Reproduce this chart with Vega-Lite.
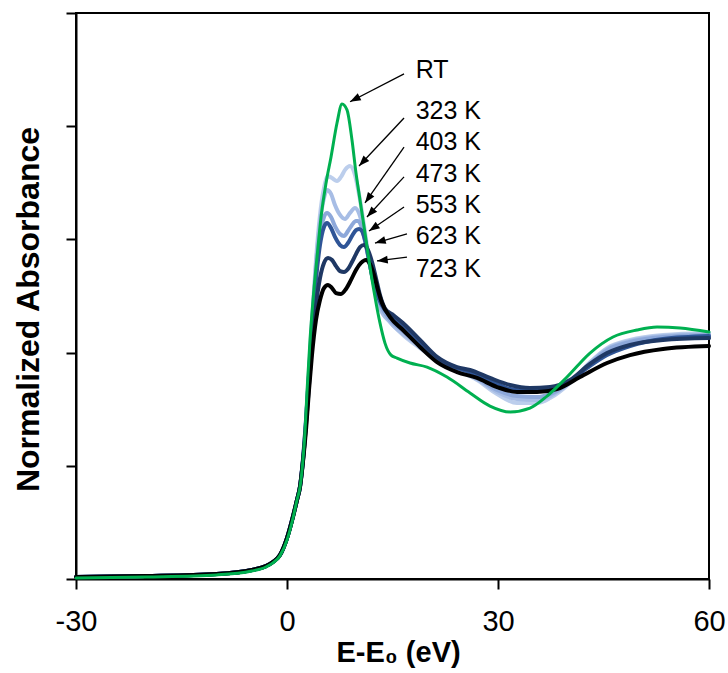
{
  "$schema": "https://vega.github.io/schema/vega-lite/v6.json",
  "width": 633,
  "height": 566,
  "autosize": {"type": "none"},
  "padding": {"left": 76, "top": 13, "right": 19, "bottom": 94},
  "background": "white",
  "config": {
    "font": "Liberation Sans",
    "view": {"stroke": "black", "strokeWidth": 2},
    "axis": {"domainColor": "black", "domainWidth": 2, "tickColor": "black", "tickWidth": 2, "tickSize": 10, "grid": false, "labelColor": "black", "titleColor": "black", "labelFont": "Liberation Sans", "titleFont": "Liberation Sans"}
  },
  "datasets": {
    "curves": [
      {"s":"323 K","x":-30,"y":0.009},{"s":"323 K","x":-20,"y":0.013},{"s":"323 K","x":-10,"y":0.022},{"s":"323 K","x":-5,"y":0.04},{"s":"323 K","x":-3,"y":0.057},{"s":"323 K","x":-2,"y":0.075},{"s":"323 K","x":-1,"y":0.106},{"s":"323 K","x":0,"y":0.181},{"s":"323 K","x":0.85,"y":0.276},{"s":"323 K","x":1.42,"y":0.349},{"s":"323 K","x":1.85,"y":0.408},
      {"s":"323 K","x":2.28,"y":0.526},{"s":"323 K","x":2.7,"y":0.702},{"s":"323 K","x":3.13,"y":0.923},{"s":"323 K","x":3.55,"y":1.144},{"s":"323 K","x":4.12,"y":1.409},{"s":"323 K","x":4.69,"y":1.608},{"s":"323 K","x":5.26,"y":1.727},{"s":"323 K","x":5.83,"y":1.78},{"s":"323 K","x":6.4,"y":1.771},{"s":"323 K","x":7.11,"y":1.758},{"s":"323 K","x":7.68,"y":1.776},{"s":"323 K","x":8.25,"y":1.807},{"s":"323 K","x":8.96,"y":1.824},{"s":"323 K","x":9.67,"y":1.784},{"s":"323 K","x":10.38,"y":1.674},{"s":"323 K","x":11.09,"y":1.533},{"s":"323 K","x":11.8,"y":1.387},{"s":"323 K","x":12.51,"y":1.276},{"s":"323 K","x":13.22,"y":1.197},{"s":"323 K","x":14.65,"y":1.135},{"s":"323 K","x":16.49,"y":1.078},{"s":"323 K","x":18.91,"y":1.02},{"s":"323 K","x":21.33,"y":0.967},{"s":"323 K","x":24.17,"y":0.923},{"s":"323 K","x":27.02,"y":0.879},{"s":"323 K","x":29.86,"y":0.817},{"s":"323 K","x":32.7,"y":0.777},{"s":"323 K","x":35.55,"y":0.777},{"s":"323 K","x":37.4,"y":0.799},{"s":"323 K","x":40.24,"y":0.866},{"s":"323 K","x":43.08,"y":0.958},{"s":"323 K","x":45.5,"y":1.02},{"s":"323 K","x":48.77,"y":1.056},{"s":"323 K","x":53.46,"y":1.078},{"s":"323 K","x":60,"y":1.087},

      {"s":"403 K","x":-30,"y":0.009},{"s":"403 K","x":-20,"y":0.013},{"s":"403 K","x":-10,"y":0.022},{"s":"403 K","x":-5,"y":0.04},{"s":"403 K","x":-3,"y":0.057},{"s":"403 K","x":-2,"y":0.075},{"s":"403 K","x":-1,"y":0.106},{"s":"403 K","x":0,"y":0.181},{"s":"403 K","x":0.85,"y":0.276},{"s":"403 K","x":1.42,"y":0.349},{"s":"403 K","x":1.85,"y":0.408},
      {"s":"403 K","x":2.28,"y":0.526},{"s":"403 K","x":2.7,"y":0.693},{"s":"403 K","x":3.13,"y":0.914},{"s":"403 K","x":3.55,"y":1.122},{"s":"403 K","x":4.12,"y":1.387},{"s":"403 K","x":4.69,"y":1.577},{"s":"403 K","x":5.26,"y":1.683},{"s":"403 K","x":5.69,"y":1.718},{"s":"403 K","x":6.26,"y":1.701},{"s":"403 K","x":6.82,"y":1.652},{"s":"403 K","x":7.54,"y":1.608},{"s":"403 K","x":8.25,"y":1.59},{"s":"403 K","x":8.96,"y":1.617},{"s":"403 K","x":9.67,"y":1.639},{"s":"403 K","x":10.38,"y":1.603},{"s":"403 K","x":11.09,"y":1.506},{"s":"403 K","x":11.8,"y":1.387},{"s":"403 K","x":12.51,"y":1.281},{"s":"403 K","x":13.22,"y":1.201},{"s":"403 K","x":14.65,"y":1.135},{"s":"403 K","x":16.49,"y":1.082},{"s":"403 K","x":18.91,"y":1.029},{"s":"403 K","x":21.33,"y":0.972},{"s":"403 K","x":24.17,"y":0.927},{"s":"403 K","x":27.02,"y":0.883},{"s":"403 K","x":29.86,"y":0.826},{"s":"403 K","x":32.7,"y":0.795},{"s":"403 K","x":35.55,"y":0.791},{"s":"403 K","x":37.4,"y":0.808},{"s":"403 K","x":40.24,"y":0.87},{"s":"403 K","x":43.08,"y":0.954},{"s":"403 K","x":45.5,"y":1.016},{"s":"403 K","x":48.77,"y":1.051},{"s":"403 K","x":53.46,"y":1.073},{"s":"403 K","x":60,"y":1.082},

      {"s":"473 K","x":-30,"y":0.009},{"s":"473 K","x":-20,"y":0.013},{"s":"473 K","x":-10,"y":0.022},{"s":"473 K","x":-5,"y":0.04},{"s":"473 K","x":-3,"y":0.057},{"s":"473 K","x":-2,"y":0.075},{"s":"473 K","x":-1,"y":0.106},{"s":"473 K","x":0,"y":0.181},{"s":"473 K","x":0.85,"y":0.276},{"s":"473 K","x":1.42,"y":0.349},{"s":"473 K","x":1.85,"y":0.408},
      {"s":"473 K","x":2.28,"y":0.526},{"s":"473 K","x":2.7,"y":0.693},{"s":"473 K","x":3.13,"y":0.905},{"s":"473 K","x":3.55,"y":1.109},{"s":"473 K","x":4.12,"y":1.356},{"s":"473 K","x":4.69,"y":1.519},{"s":"473 K","x":5.26,"y":1.599},{"s":"473 K","x":5.69,"y":1.617},{"s":"473 K","x":6.26,"y":1.599},{"s":"473 K","x":6.82,"y":1.559},{"s":"473 K","x":7.54,"y":1.524},{"s":"473 K","x":8.1,"y":1.515},{"s":"473 K","x":8.67,"y":1.537},{"s":"473 K","x":9.24,"y":1.564},{"s":"473 K","x":9.81,"y":1.581},{"s":"473 K","x":10.1,"y":1.581},{"s":"473 K","x":10.66,"y":1.55},{"s":"473 K","x":11.23,"y":1.471},{"s":"473 K","x":11.94,"y":1.365},{"s":"473 K","x":12.65,"y":1.272},{"s":"473 K","x":13.37,"y":1.206},{"s":"473 K","x":14.65,"y":1.144},{"s":"473 K","x":16.49,"y":1.095},{"s":"473 K","x":18.91,"y":1.034},{"s":"473 K","x":21.33,"y":0.976},{"s":"473 K","x":24.17,"y":0.927},{"s":"473 K","x":27.02,"y":0.888},{"s":"473 K","x":29.86,"y":0.835},{"s":"473 K","x":32.7,"y":0.808},{"s":"473 K","x":35.55,"y":0.804},{"s":"473 K","x":37.4,"y":0.817},{"s":"473 K","x":40.24,"y":0.87},{"s":"473 K","x":43.08,"y":0.95},{"s":"473 K","x":45.5,"y":1.011},{"s":"473 K","x":48.77,"y":1.047},{"s":"473 K","x":53.46,"y":1.069},{"s":"473 K","x":60,"y":1.078},

      {"s":"553 K","x":-30,"y":0.009},{"s":"553 K","x":-20,"y":0.013},{"s":"553 K","x":-10,"y":0.022},{"s":"553 K","x":-5,"y":0.04},{"s":"553 K","x":-3,"y":0.057},{"s":"553 K","x":-2,"y":0.075},{"s":"553 K","x":-1,"y":0.106},{"s":"553 K","x":0,"y":0.181},{"s":"553 K","x":0.85,"y":0.276},{"s":"553 K","x":1.42,"y":0.349},{"s":"553 K","x":1.85,"y":0.408},
      {"s":"553 K","x":2.28,"y":0.534},{"s":"553 K","x":2.7,"y":0.702},{"s":"553 K","x":3.13,"y":0.901},{"s":"553 K","x":3.55,"y":1.1},{"s":"553 K","x":4.12,"y":1.321},{"s":"553 K","x":4.69,"y":1.475},{"s":"553 K","x":5.26,"y":1.555},{"s":"553 K","x":5.69,"y":1.572},{"s":"553 K","x":6.26,"y":1.55},{"s":"553 K","x":6.82,"y":1.511},{"s":"553 K","x":7.54,"y":1.475},{"s":"553 K","x":8.1,"y":1.466},{"s":"553 K","x":8.67,"y":1.484},{"s":"553 K","x":9.24,"y":1.515},{"s":"553 K","x":9.81,"y":1.541},{"s":"553 K","x":10.24,"y":1.546},{"s":"553 K","x":10.66,"y":1.537},{"s":"553 K","x":11.09,"y":1.497},{"s":"553 K","x":11.66,"y":1.409},{"s":"553 K","x":12.23,"y":1.321},{"s":"553 K","x":12.94,"y":1.246},{"s":"553 K","x":13.93,"y":1.188},{"s":"553 K","x":14.93,"y":1.162},{"s":"553 K","x":16.49,"y":1.122},{"s":"553 K","x":18.91,"y":1.047},{"s":"553 K","x":21.33,"y":0.976},{"s":"553 K","x":24.17,"y":0.932},{"s":"553 K","x":26.02,"y":0.914},{"s":"553 K","x":28.86,"y":0.875},{"s":"553 K","x":31.71,"y":0.839},{"s":"553 K","x":34.55,"y":0.83},{"s":"553 K","x":37.4,"y":0.835},{"s":"553 K","x":40.24,"y":0.875},{"s":"553 K","x":43.08,"y":0.941},{"s":"553 K","x":45.5,"y":0.989},{"s":"553 K","x":48.77,"y":1.029},{"s":"553 K","x":53.46,"y":1.06},{"s":"553 K","x":60,"y":1.073},

      {"s":"623 K","x":-30,"y":0.009},{"s":"623 K","x":-20,"y":0.013},{"s":"623 K","x":-10,"y":0.022},{"s":"623 K","x":-5,"y":0.04},{"s":"623 K","x":-3,"y":0.057},{"s":"623 K","x":-2,"y":0.075},{"s":"623 K","x":-1,"y":0.106},{"s":"623 K","x":0,"y":0.181},{"s":"623 K","x":0.85,"y":0.278},{"s":"623 K","x":1.42,"y":0.349},{"s":"623 K","x":1.85,"y":0.411},
      {"s":"623 K","x":2.28,"y":0.526},{"s":"623 K","x":2.7,"y":0.68},{"s":"623 K","x":3.13,"y":0.857},{"s":"623 K","x":3.55,"y":1.034},{"s":"623 K","x":4.12,"y":1.21},{"s":"623 K","x":4.69,"y":1.329},{"s":"623 K","x":5.26,"y":1.396},{"s":"623 K","x":5.83,"y":1.418},{"s":"623 K","x":6.4,"y":1.409},{"s":"623 K","x":6.97,"y":1.382},{"s":"623 K","x":7.54,"y":1.36},{"s":"623 K","x":8.1,"y":1.356},{"s":"623 K","x":8.67,"y":1.369},{"s":"623 K","x":9.24,"y":1.4},{"s":"623 K","x":9.81,"y":1.435},{"s":"623 K","x":10.38,"y":1.466},{"s":"623 K","x":10.95,"y":1.475},{"s":"623 K","x":11.52,"y":1.453},{"s":"623 K","x":12.09,"y":1.4},{"s":"623 K","x":12.65,"y":1.329},{"s":"623 K","x":13.22,"y":1.254},{"s":"623 K","x":13.93,"y":1.195},{"s":"623 K","x":14.93,"y":1.17},{"s":"623 K","x":16.49,"y":1.131},{"s":"623 K","x":18.91,"y":1.056},{"s":"623 K","x":21.33,"y":0.981},{"s":"623 K","x":24.17,"y":0.936},{"s":"623 K","x":26.02,"y":0.923},{"s":"623 K","x":28.86,"y":0.888},{"s":"623 K","x":31.71,"y":0.857},{"s":"623 K","x":34.55,"y":0.844},{"s":"623 K","x":37.4,"y":0.848},{"s":"623 K","x":40.24,"y":0.879},{"s":"623 K","x":43.08,"y":0.95},{"s":"623 K","x":45.5,"y":0.998},{"s":"623 K","x":48.77,"y":1.034},{"s":"623 K","x":53.46,"y":1.056},{"s":"623 K","x":60,"y":1.064},

      {"s":"723 K","x":-30,"y":0.009},{"s":"723 K","x":-20,"y":0.013},{"s":"723 K","x":-10,"y":0.022},{"s":"723 K","x":-5,"y":0.04},{"s":"723 K","x":-3,"y":0.057},{"s":"723 K","x":-2,"y":0.075},{"s":"723 K","x":-1,"y":0.106},{"s":"723 K","x":0,"y":0.181},{"s":"723 K","x":0.85,"y":0.274},{"s":"723 K","x":1.42,"y":0.349},{"s":"723 K","x":1.85,"y":0.406},
      {"s":"723 K","x":2.27,"y":0.517},{"s":"723 K","x":2.7,"y":0.658},{"s":"723 K","x":3.13,"y":0.835},{"s":"723 K","x":3.55,"y":0.989},{"s":"723 K","x":4.12,"y":1.144},{"s":"723 K","x":4.69,"y":1.232},{"s":"723 K","x":5.26,"y":1.285},{"s":"723 K","x":5.83,"y":1.299},{"s":"723 K","x":6.4,"y":1.285},{"s":"723 K","x":6.97,"y":1.263},{"s":"723 K","x":7.68,"y":1.259},{"s":"723 K","x":8.39,"y":1.281},{"s":"723 K","x":9.1,"y":1.321},{"s":"723 K","x":9.81,"y":1.365},{"s":"723 K","x":10.52,"y":1.396},{"s":"723 K","x":11.23,"y":1.409},{"s":"723 K","x":11.8,"y":1.391},{"s":"723 K","x":12.37,"y":1.343},{"s":"723 K","x":12.94,"y":1.276},{"s":"723 K","x":13.51,"y":1.219},{"s":"723 K","x":14.65,"y":1.157},{"s":"723 K","x":16.49,"y":1.1},{"s":"723 K","x":18.91,"y":1.025},{"s":"723 K","x":21.33,"y":0.958},{"s":"723 K","x":24.17,"y":0.914},{"s":"723 K","x":27.02,"y":0.888},{"s":"723 K","x":29.86,"y":0.848},{"s":"723 K","x":32.7,"y":0.826},{"s":"723 K","x":35.55,"y":0.826},{"s":"723 K","x":38.39,"y":0.839},{"s":"723 K","x":41.66,"y":0.892},{"s":"723 K","x":45.5,"y":0.954},{"s":"723 K","x":48.77,"y":0.989},{"s":"723 K","x":53.46,"y":1.016},{"s":"723 K","x":60,"y":1.029},

      {"s":"RT","x":-30,"y":0.004},{"s":"RT","x":-20,"y":0.009},{"s":"RT","x":-10,"y":0.018},{"s":"RT","x":-5,"y":0.035},{"s":"RT","x":-3,"y":0.053},{"s":"RT","x":-2,"y":0.071},{"s":"RT","x":-1,"y":0.102},{"s":"RT","x":0,"y":0.172},{"s":"RT","x":0.85,"y":0.269},{"s":"RT","x":1.42,"y":0.349},{"s":"RT","x":1.85,"y":0.406},{"s":"RT","x":2.27,"y":0.526},{"s":"RT","x":2.56,"y":0.649},{"s":"RT","x":2.84,"y":0.826},{"s":"RT","x":3.27,"y":1.056},{"s":"RT","x":3.7,"y":1.232},{"s":"RT","x":4.27,"y":1.422},{"s":"RT","x":4.84,"y":1.599},{"s":"RT","x":5.55,"y":1.749},{"s":"RT","x":6.26,"y":1.864},{"s":"RT","x":7.11,"y":2.014},{"s":"RT","x":7.82,"y":2.098},{"s":"RT","x":8.53,"y":2.072},{"s":"RT","x":9.24,"y":1.939},{"s":"RT","x":9.81,"y":1.793},{"s":"RT","x":10.38,"y":1.674},{"s":"RT","x":11.09,"y":1.528},{"s":"RT","x":11.8,"y":1.378},{"s":"RT","x":12.51,"y":1.246},{"s":"RT","x":13.22,"y":1.131},{"s":"RT","x":13.93,"y":1.042},{"s":"RT","x":14.79,"y":0.989},{"s":"RT","x":15.64,"y":0.976},{"s":"RT","x":17.49,"y":0.954},{"s":"RT","x":19.91,"y":0.936},{"s":"RT","x":22.75,"y":0.892},{"s":"RT","x":26.02,"y":0.822},{"s":"RT","x":28.86,"y":0.764},{"s":"RT","x":31.71,"y":0.738},{"s":"RT","x":34.55,"y":0.755},{"s":"RT","x":36.97,"y":0.808},{"s":"RT","x":39.81,"y":0.892},{"s":"RT","x":43.08,"y":0.998},{"s":"RT","x":46.35,"y":1.069},{"s":"RT","x":49.77,"y":1.1},{"s":"RT","x":52.61,"y":1.113},{"s":"RT","x":55.88,"y":1.109},{"s":"RT","x":60,"y":1.091}
    ],
    "notes": [
      {"label":"RT","lx":18.3,"ly":2.248,"x":16.64,"y":2.231,"x2":8.96,"y2":2.108},
      {"label":"323 K","lx":18.3,"ly":2.067,"x":16.64,"y":2.036,"x2":10.24,"y2":1.824},
      {"label":"403 K","lx":18.3,"ly":1.93,"x":16.64,"y":1.908,"x2":11.09,"y2":1.661},
      {"label":"473 K","lx":18.3,"ly":1.789,"x":16.64,"y":1.776,"x2":11.37,"y2":1.599},
      {"label":"553 K","lx":18.3,"ly":1.652,"x":16.64,"y":1.643,"x2":11.66,"y2":1.537},
      {"label":"623 K","lx":18.3,"ly":1.515,"x":17.06,"y":1.524,"x2":12.51,"y2":1.484},
      {"label":"723 K","lx":18.3,"ly":1.369,"x":17.06,"y":1.422,"x2":12.8,"y2":1.405}
    ]
  },
  "layer": [
    {
      "data": {"name": "curves"},
      "transform": [{"filter": "datum.s !== 'RT'"}],
      "mark": {"type": "line", "interpolate": "monotone", "strokeCap": "round", "strokeJoin": "round"},
      "encoding": {
        "x": {"field": "x", "type": "quantitative", "scale": {"domain": [-30, 60], "nice": false, "zero": false},
          "axis": {"values": [-30, 0, 30, 60], "labelExpr": "datum.value < 0 ? '-' + abs(datum.value) : '' + datum.value", "title": "E-E₀ (eV)", "labelFontSize": 29, "labelPadding": 18, "labelFlush": false, "titleFontSize": 29, "titleFontWeight": "bold", "titleX": 322, "titleY": 82, "titleBaseline": "alphabetic", "titleAlign": "center"}},
        "y": {"field": "y", "type": "quantitative", "scale": {"domain": [0, 2.5], "nice": false},
          "axis": {"values": [0, 0.5, 1, 1.5, 2, 2.5], "labels": false, "title": "Normalized Absorbance", "titleFontSize": 32, "titleFontWeight": "bold", "titleX": -38, "titleY": 296, "titleAngle": -90, "titleAlign": "center", "titleBaseline": "alphabetic"}},
        "color": {"field": "s", "type": "nominal", "legend": null,
          "scale": {"domain": ["323 K", "403 K", "473 K", "553 K", "623 K", "723 K", "RT"], "range": ["#BCCEEC", "#A7BDE5", "#8DA8DA", "#2F5597", "#1F3864", "#000000", "#00B050"]}},
        "strokeWidth": {"field": "s", "type": "nominal", "legend": null,
          "scale": {"domain": ["323 K", "403 K", "473 K", "553 K", "623 K", "723 K", "RT"], "range": [4, 4, 4, 4, 4, 3.5, 3]}}
      }
    },
    {
      "data": {"name": "curves"},
      "transform": [{"filter": "datum.s === 'RT'"}],
      "mark": {"type": "line", "interpolate": "monotone", "color": "#00B050", "strokeWidth": 3, "strokeCap": "round"},
      "encoding": {
        "x": {"field": "x", "type": "quantitative"},
        "y": {"field": "y", "type": "quantitative"}
      }
    },
    {
      "data": {"name": "notes"},
      "mark": {"type": "rule", "color": "black", "strokeWidth": 1.3},
      "encoding": {
        "x": {"field": "x", "type": "quantitative"},
        "y": {"field": "y", "type": "quantitative"},
        "x2": {"field": "x2"},
        "y2": {"field": "y2"}
      }
    },
    {
      "data": {"name": "notes"},
      "transform": [{"calculate": "(atan2((datum.x2 - datum.x) * 7.033, (datum.y2 - datum.y) * 226.4) * 180 / PI + 360) % 360", "as": "ang"}],
      "mark": {"type": "point", "shape": "M0,0L0.4,1.1L-0.4,1.1Z", "filled": true, "color": "black", "opacity": 1, "size": 380, "strokeWidth": 0},
      "encoding": {
        "x": {"field": "x2", "type": "quantitative"},
        "y": {"field": "y2", "type": "quantitative"},
        "angle": {"field": "ang", "type": "quantitative", "scale": null}
      }
    },
    {
      "data": {"name": "notes"},
      "mark": {"type": "text", "align": "left", "baseline": "middle", "fontSize": 25, "color": "black", "font": "Liberation Sans"},
      "encoding": {
        "x": {"field": "lx", "type": "quantitative"},
        "y": {"field": "ly", "type": "quantitative"},
        "text": {"field": "label"}
      }
    }
  ]
}
